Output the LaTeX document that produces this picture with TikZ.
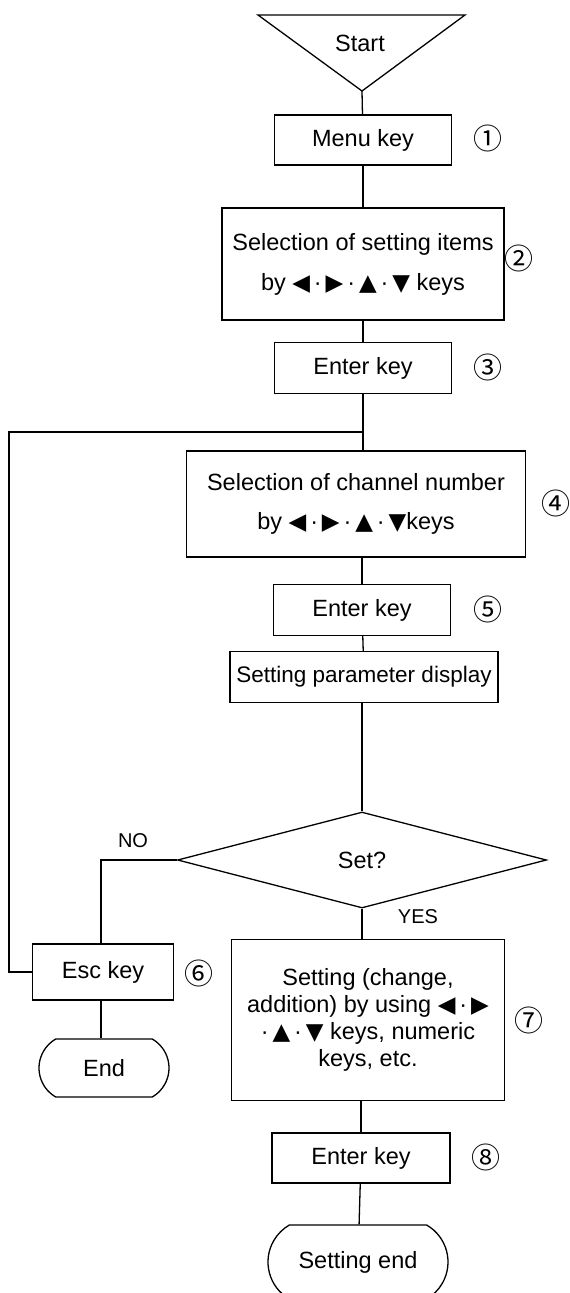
\documentclass[tikz,border=0pt]{standalone}
\usepackage{fontspec}
\setmainfont{Liberation Sans}
\newfontfamily\symfont{DejaVu Sans}
\newfontfamily\cjkfont{Noto Sans CJK JP}
\usetikzlibrary{shapes.geometric,shapes.misc}
\newcommand{\mytri}[1]{{\symfont\fontsize{23}{23}\selectfont #1}}
\begin{document}
\begin{tikzpicture}[x=1pt,y=-1pt,line width=1.3pt,
  every node/.style={font=\fontsize{23.5}{28}\selectfont},
  box/.style={draw,rectangle,inner sep=0pt,align=center},
  term/.style={draw,rounded rectangle,rounded rectangle arc length=120,inner sep=0pt},
  num/.style={font=\cjkfont\fontsize{29}{30}\selectfont},
  lbl/.style={font=\fontsize{20}{24}\selectfont}]
\useasboundingbox (0,0) rectangle (570,1293);
% start
\draw (258,15) -- (465,15) -- (362,91) -- cycle;
\coordinate (sa) at (362,91);
\node (start) at (360,43) {Start};
% boxes
\node[box,minimum width=177,minimum height=50] (n1) at (363,140) {Menu key};
\node[num] (c1) at (488,138) {①};
\node[box,minimum width=282,minimum height=112,font=\fontsize{23.5}{40}\selectfont] (n2) at (363,264)
  {Selection of setting items\\by \mytri{◀}\,·\,\mytri{▶}\,·\,\mytri{▲}\,·\,\mytri{▼} keys};
\node[num] (c2) at (519,258) {②};
\node[box,minimum width=177,minimum height=51] (n3) at (363,368) {Enter key};
\node[num] (c3) at (488,367) {③};
\coordinate (j) at (362,432);
\node[box,minimum width=339,minimum height=106,font=\fontsize{23.5}{39}\selectfont] (n4) at (356,504)
  {Selection of channel number\\by \mytri{◀}\,·\,\mytri{▶}\,·\,\mytri{▲}\,·\,\mytri{▼}keys};
\node[num] (c4) at (556,503) {④};
\node[box,minimum width=268,minimum height=51,font=\fontsize{22.5}{28}\selectfont] (n6) at (364,677) {Setting parameter display};
\node[box,minimum width=177,minimum height=51] (n5) at (362,610) {Enter key};
\node[num] (c5) at (488,609) {⑤};
\node[draw,diamond,aspect=3.85,minimum width=369,minimum height=96,inner sep=0pt] (d) at (362,860) {Set?};
\node[lbl] (no) at (133,841) {NO};
\node[lbl] (yes) at (418,917) {YES};
\node[box,minimum width=141,minimum height=56] (esc) at (103,972) {Esc key};
\node[num] (c6) at (199,973) {⑥};
\node[term,minimum width=130,minimum height=58] (end) at (104,1068) {End};
\node[box,minimum width=273,minimum height=161,font=\fontsize{23.5}{27}\selectfont] (n7) at (368,1020)
  {Setting (change,\\addition) by using \mytri{◀}\,·\,\mytri{▶}\\·\,\mytri{▲}\,·\,\mytri{▼} keys, numeric\\keys, etc.};
\node[num] (c7) at (529,1020) {⑦};
\node[box,minimum width=178,minimum height=50] (n8) at (361,1158) {Enter key};
\node[num] (c8) at (486,1157) {⑧};
\node[term,minimum width=180,minimum height=74] (send) at (358,1262) {Setting end};
% connectors
\coordinate (lx) at (9,0);
\coordinate (ex) at (101,0);
\draw (sa) -- (n1);
\draw (n1) -- (n2);
\draw (n2) -- (n3);
\draw (n3.south) -- (n3.south |- n4.north);
\draw (n5.north |- n4.south) -- (n5.north);
\draw (n5) -- (n6);
\draw (n6.south -| d.north) -- (d.north);
\draw (d.south) -- (d.south |- n7.north);
\draw (n8.north |- n7.south) -- (n8.north);
\draw (n8) -- (send);
\draw (d.west) -- (d.west -| ex) -- (ex |- esc.north);
\draw (ex |- esc.south) -- (ex |- end.north);
\draw (esc.west) -- (esc.west -| lx) |- (j);
\end{tikzpicture}
\end{document}
